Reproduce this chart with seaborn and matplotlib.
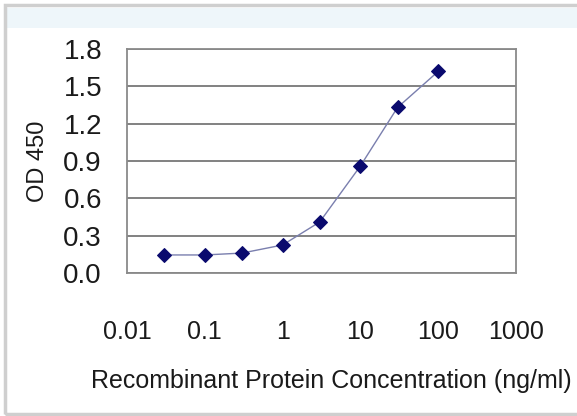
import matplotlib
matplotlib.use("Agg")
import matplotlib.pyplot as plt
import matplotlib.ticker as mticker
from matplotlib.patches import Rectangle
import seaborn as sns
import pandas as pd

concentration = [0.03, 0.1, 0.3, 1, 3, 10, 30, 100]
od450 = [0.145, 0.145, 0.16, 0.225, 0.41, 0.86, 1.33, 1.62]
x_ticks = [0.01, 0.1, 1, 10, 100, 1000]
x_tick_labels = ["0.01", "0.1", "1", "10", "100", "1000"]
y_ticks = [0.0, 0.3, 0.6, 0.9, 1.2, 1.5, 1.8]
y_tick_labels = ["0.0", "0.3", "0.6", "0.9", "1.2", "1.5", "1.8"]

df = pd.DataFrame({"conc": concentration, "od": od450})

sns.set_style("white")
plt.rcParams['font.family'] = ['Liberation Sans', 'DejaVu Sans']

fig = plt.figure(figsize=(5.77, 4.16), dpi=100)
fig.patch.set_facecolor("white")

# decorative frame
fig.add_artist(Rectangle((5/577, 2/416), 1 - 5/577 + 0.01, 1 - 5/416 - 2/416, transform=fig.transFigure,
                         facecolor="none", edgecolor="#cfcfcf", linewidth=2.5, zorder=-5))
fig.add_artist(Rectangle((7/577, 1 - 28/416), 1, 20/416, transform=fig.transFigure,
                         facecolor="#eef6fa", edgecolor="none", zorder=-6))

ax = fig.add_axes([127/577, 1 - 273/416, (516 - 127)/577, (273 - 49)/416])
ax.set_facecolor("white")

sns.lineplot(data=df, x="conc", y="od", ax=ax, color="#7a7fae", linewidth=1.0,
             marker="D", markersize=7, markerfacecolor="#0a0a6e",
             markeredgecolor="#0a0a6e", zorder=3)

ax.set_xscale("log")
ax.set_xlim(0.01, 1000)
ax.set_ylim(0, 1.8)
ax.xaxis.set_major_locator(mticker.FixedLocator(x_ticks))
ax.xaxis.set_major_formatter(mticker.FixedFormatter(x_tick_labels))
ax.xaxis.set_minor_locator(mticker.NullLocator())
ax.set_yticks(y_ticks)
ax.set_yticklabels(y_tick_labels)

ax.yaxis.grid(True, color="#777777", linewidth=1.3)
ax.xaxis.grid(False)
ax.set_axisbelow(True)

for s in ax.spines.values():
    s.set_color("#8a8a8a")
    s.set_linewidth(1.3)

ax.tick_params(axis="x", direction="in", length=5, width=1, color="#777777",
               labelsize=18, pad=34, labelcolor="#1a1a1a")
ax.tick_params(axis="y", length=0, labelsize=20, pad=18, labelcolor="#1a1a1a")

ax.set_xlabel("Recombinant Protein Concentration (ng/ml)", fontsize=18, color="#1a1a1a")
ax.xaxis.set_label_coords(0.524, -0.43)
ax.set_ylabel("OD 450", fontsize=17, color="#1a1a1a")
ax.yaxis.set_label_coords(-0.2, 0.5)

fig.savefig("out.png", dpi=100)
